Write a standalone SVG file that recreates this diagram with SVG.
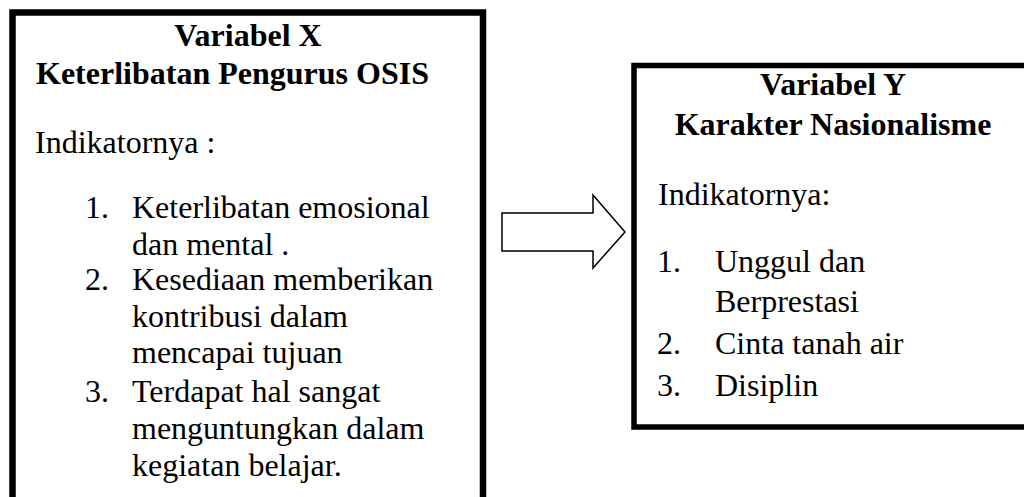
<svg xmlns="http://www.w3.org/2000/svg" width="1024" height="497" viewBox="0 0 1024 497">
<style>
.box{fill:#fff;stroke:#000}
.t{font-family:"Liberation Serif","Times New Roman",serif;font-size:32px;fill:#000}
.b{font-weight:bold}
.m{text-anchor:middle}
</style>
<rect width="1024" height="497" fill="#fff"/>
<g id="nodeX">
<rect class="box" x="12.5" y="12.5" width="470.5" height="500" stroke-width="6.5"/>
<text class="t b m" x="248" y="46">Variabel X</text>
<text class="t b" x="36" y="84">Keterlibatan Pengurus OSIS</text>
<text class="t" x="35" y="153">Indikatornya :</text>
<text class="t" x="85" y="218">1.</text>
<text class="t" x="132" y="218">Keterlibatan emosional</text>
<text class="t" x="132" y="255">dan mental .</text>
<text class="t" x="85" y="290">2.</text>
<text class="t" x="132" y="290">Kesediaan memberikan</text>
<text class="t" x="132" y="327">kontribusi dalam</text>
<text class="t" x="132" y="363">mencapai tujuan</text>
<text class="t" x="85" y="402">3.</text>
<text class="t" x="132" y="402">Terdapat hal sangat</text>
<text class="t" x="132" y="439">menguntungkan dalam</text>
<text class="t" x="132" y="476">kegiatan belajar.</text>
</g>
<g id="connectors">
<polygon points="502,213 593,213 593,195 625,232 593,268 593,251 502,251" fill="#fff" stroke="#000" stroke-width="1.5"/>
</g>
<g id="nodeY">
<rect class="box" x="634" y="65.5" width="400" height="361.5" stroke-width="5.5"/>
<text class="t b m" x="833" y="95">Variabel Y</text>
<text class="t b m" x="833" y="135">Karakter Nasionalisme</text>
<text class="t" x="658" y="205">Indikatornya:</text>
<text class="t" x="657" y="272">1.</text>
<text class="t" x="715" y="272">Unggul dan</text>
<text class="t" x="715" y="312">Berprestasi</text>
<text class="t" x="657" y="354">2.</text>
<text class="t" x="715" y="354">Cinta tanah air</text>
<text class="t" x="657" y="396">3.</text>
<text class="t" x="715" y="396">Disiplin</text>
</g>
</svg>
